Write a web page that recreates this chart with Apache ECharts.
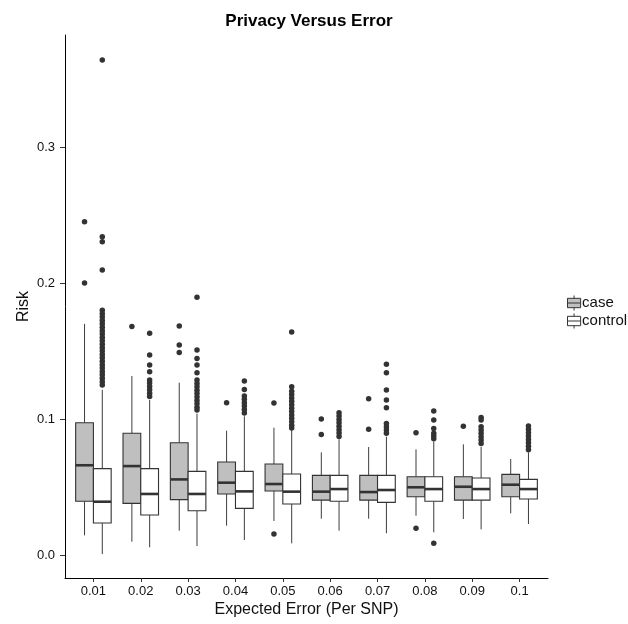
<!DOCTYPE html>
<html>
<head>
<meta charset="utf-8">
<script src="https://cdn.jsdelivr.net/npm/echarts@6/dist/echarts.min.js"></script>
<style>html,body{margin:0;padding:0;background:#fff}#c{width:628px;height:624px}</style>
</head>
<body>
<div id="c"></div>
<script>
const categories = ['0.01','0.02','0.03','0.04','0.05','0.06','0.07','0.08','0.09','0.1'];
const yTicks = [0, 0.1, 0.2, 0.3];

const caseLow  = [0.0145, 0.0098, 0.0179, 0.0216, 0.0250, 0.0267, 0.0267, 0.0289, 0.0265, 0.0306];
const caseQ1   = [0.0395, 0.0380, 0.0407, 0.0449, 0.0471, 0.0404, 0.0404, 0.0429, 0.0404, 0.0429];
const caseMed  = [0.0660, 0.0654, 0.0556, 0.0532, 0.0522, 0.0466, 0.0463, 0.0498, 0.0502, 0.0517];
const caseQ3   = [0.0973, 0.0895, 0.0826, 0.0684, 0.0669, 0.0586, 0.0586, 0.0576, 0.0576, 0.0593];
const caseHigh = [0.1700, 0.1316, 0.1267, 0.0914, 0.0936, 0.0755, 0.0794, 0.0777, 0.0814, 0.0706];

const controlLow  = [0.0007, 0.0057, 0.0066, 0.0110, 0.0086, 0.0179, 0.0160, 0.0167, 0.0189, 0.0228];
const controlQ1   = [0.0235, 0.0294, 0.0326, 0.0343, 0.0375, 0.0395, 0.0387, 0.0395, 0.0404, 0.0412];
const controlMed  = [0.0392, 0.0449, 0.0449, 0.0468, 0.0466, 0.0485, 0.0478, 0.0485, 0.0485, 0.0485];
const controlQ3   = [0.0635, 0.0635, 0.0615, 0.0615, 0.0596, 0.0586, 0.0586, 0.0576, 0.0566, 0.0556];
const controlHigh = [0.1215, 0.1140, 0.1040, 0.1020, 0.0919, 0.0850, 0.0870, 0.0835, 0.0795, 0.0755];

const caseOutliers = [
  [0.245, 0.200],
  [0.168],
  [0.1684, 0.1544, 0.149],
  [0.112],
  [0.1118, 0.0154],
  [0.100, 0.0887],
  [0.115, 0.0924],
  [0.090, 0.0196],
  [0.0946],
  []
];
const controlOutliers = [
  [0.364, 0.234, 0.2303, 0.2096, 0.180, 0.1775, 0.175, 0.1725, 0.170, 0.1675, 0.165, 0.1625, 0.160, 0.1575, 0.155, 0.1525, 0.150, 0.1475, 0.145, 0.1425, 0.140, 0.1375, 0.135, 0.1325, 0.130, 0.1275, 0.125],
  [0.163, 0.147, 0.1397, 0.1348, 0.1287, 0.1265, 0.124, 0.1215, 0.119, 0.1165],
  [0.1895, 0.1507, 0.1446, 0.1397, 0.134, 0.1287, 0.1262, 0.1237, 0.1212, 0.1187, 0.1162, 0.1137, 0.1112, 0.1087, 0.1066],
  [0.128, 0.1218, 0.117, 0.1145, 0.112, 0.1095, 0.107, 0.1045],
  [0.164, 0.1238, 0.1205, 0.118, 0.1155, 0.113, 0.1105, 0.108, 0.1055, 0.103, 0.1005, 0.098, 0.0955, 0.0934],
  [0.1047, 0.1022, 0.0997, 0.0972, 0.0947, 0.0922, 0.0897, 0.0872],
  [0.1402, 0.134, 0.1213, 0.114, 0.1083, 0.0968, 0.0944, 0.092, 0.0895],
  [0.1059, 0.0993, 0.0931, 0.0895, 0.0875, 0.0855, 0.0086],
  [0.1012, 0.0993, 0.0944, 0.092, 0.0895, 0.087, 0.0845, 0.082],
  [0.0949, 0.0925, 0.090, 0.0875, 0.085, 0.0825, 0.080, 0.0775]
];

const DODGE = 0.1875;
const HALF = 0.1875;
const INK = '#333333';
const WHISK = '#3d3d3d';
const CASE_FILL = '#bfbfbf';
const CONTROL_FILL = '#ffffff';

function boxData(offset, lo, q1, md, q3, hi) {
  return categories.map((c, i) => [i + 1 + offset, lo[i], q1[i], md[i], q3[i], hi[i]]);
}
function outlierData(offset, arr) {
  const out = [];
  arr.forEach((vals, i) => vals.forEach(v => out.push([i + 1 + offset, v])));
  return out;
}

function makeRender(fill) {
  return function (params, api) {
    const x = api.value(0);
    const lo = api.value(1), q1 = api.value(2), md = api.value(3), q3 = api.value(4), hi = api.value(5);
    const c = api.coord([x, md])[0];
    const xl = api.coord([x - HALF, md])[0];
    const xr = api.coord([x + HALF, md])[0];
    const yLo = api.coord([x, lo])[1];
    const yQ1 = api.coord([x, q1])[1];
    const yMd = api.coord([x, md])[1];
    const yQ3 = api.coord([x, q3])[1];
    const yHi = api.coord([x, hi])[1];
    return {
      type: 'group',
      children: [
        { type: 'line', shape: { x1: c, y1: yHi, x2: c, y2: yQ3 }, style: { stroke: WHISK, lineWidth: 1 } },
        { type: 'line', shape: { x1: c, y1: yQ1, x2: c, y2: yLo }, style: { stroke: WHISK, lineWidth: 1 } },
        { type: 'rect', shape: { x: xl, y: yQ3, width: xr - xl, height: yQ1 - yQ3 }, style: { fill: fill, stroke: INK, lineWidth: 1.1 } },
        { type: 'line', shape: { x1: xl, y1: yMd, x2: xr, y2: yMd }, style: { stroke: INK, lineWidth: 2.6 } }
      ]
    };
  };
}

const ICON = 'path://M8,0L8,3M1,3L15,3L15,13L1,13ZM1,8L15,8M8,13L8,16';

const chart = echarts.init(document.getElementById('c'), null, { renderer: 'canvas' });
const txt = '#111111';
chart.setOption({
  animation: false,
  backgroundColor: '#ffffff',
  textStyle: { fontFamily: 'Liberation Sans, Arial, sans-serif' },
  title: {
    text: 'Privacy Versus Error',
    left: 304, top: 8, textAlign: 'center',
    textStyle: { fontSize: 17, fontWeight: 'bold', color: '#000', fontFamily: 'Liberation Sans, Arial, sans-serif' }
  },
  legend: {
    orient: 'vertical', left: 562, top: 290,
    itemWidth: 14, itemHeight: 15, itemGap: 2,
    textStyle: { fontSize: 15, color: txt, padding: [0, 0, 0, -4] },
    data: [
      { name: 'case', icon: ICON, itemStyle: { color: CASE_FILL, borderColor: INK, borderWidth: 1 } },
      { name: 'control', icon: ICON, itemStyle: { color: CONTROL_FILL, borderColor: INK, borderWidth: 1 } }
    ]
  },
  grid: { left: 65, right: 80, top: 35, bottom: 46, containLabel: false, outerBoundsMode: 'none' },
  xAxis: {
    type: 'value', min: 0.4, max: 10.6,
    name: 'Expected Error (Per SNP)', nameLocation: 'middle', nameGap: 24, nameMoveOverlap: false,
    nameTextStyle: { fontSize: 16, color: txt },
    splitLine: { show: false },
    axisLine: { show: true, onZero: false, lineStyle: { color: '#000', width: 1 } },
    axisTick: { show: true, length: 4, customValues: categories.map((c, i) => i + 1), lineStyle: { color: '#333' } },
    axisLabel: {
      customValues: categories.map((c, i) => i + 1),
      formatter: v => categories[Math.round(v) - 1],
      fontSize: 13, color: txt, margin: 7
    }
  },
  yAxis: {
    type: 'value', min: -0.0169, max: 0.3824,
    name: 'Risk', nameLocation: 'middle', nameGap: 33, nameRotate: 90, nameMoveOverlap: false,
    nameTextStyle: { fontSize: 16, color: txt },
    splitLine: { show: false },
    axisLine: { show: true, onZero: false, lineStyle: { color: '#000', width: 1 } },
    axisTick: { show: true, length: 5, customValues: yTicks, lineStyle: { color: '#333' } },
    axisLabel: {
      customValues: yTicks,
      formatter: v => v.toFixed(1),
      fontSize: 13, color: txt, margin: 10
    }
  },
  series: [
    {
      name: 'case', type: 'custom',
      renderItem: makeRender(CASE_FILL),
      itemStyle: { color: CASE_FILL, borderColor: INK },
      encode: { x: 0, y: [1, 2, 3, 4, 5] },
      data: boxData(-DODGE, caseLow, caseQ1, caseMed, caseQ3, caseHigh)
    },
    {
      name: 'control', type: 'custom',
      renderItem: makeRender(CONTROL_FILL),
      itemStyle: { color: CONTROL_FILL, borderColor: INK },
      encode: { x: 0, y: [1, 2, 3, 4, 5] },
      data: boxData(DODGE, controlLow, controlQ1, controlMed, controlQ3, controlHigh)
    },
    {
      name: 'case outliers', type: 'scatter', symbolSize: 5.5,
      itemStyle: { color: INK, opacity: 1 },
      data: outlierData(-DODGE, caseOutliers)
    },
    {
      name: 'control outliers', type: 'scatter', symbolSize: 5.5,
      itemStyle: { color: INK, opacity: 1 },
      data: outlierData(DODGE, controlOutliers)
    }
  ]
});
</script>
</body>
</html>
